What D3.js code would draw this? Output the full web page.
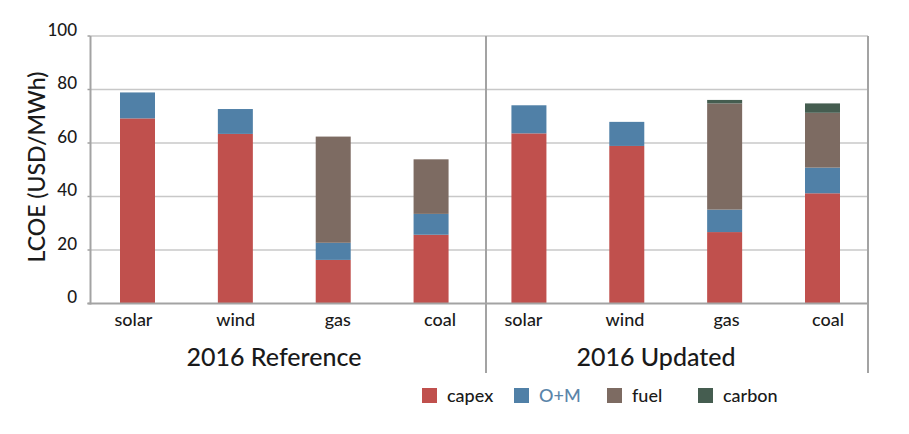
<!DOCTYPE html>
<html>
<head>
<meta charset="utf-8">
<script src="https://cdn.jsdelivr.net/npm/d3@7"></script>
<style>
  html, body { margin: 0; padding: 0; background: #fff; }
  svg { display: block; font-family: Lato, "Noto Sans", sans-serif; font-weight: 500; }
</style>
</head>
<body>
<svg id="chart" width="909" height="434"></svg>
<script>
// ---- data ----
const categories = ["solar", "wind", "gas", "coal"];
const groups = ["2016 Reference", "2016 Updated"];
const seriesNames = ["capex", "O+M", "fuel", "carbon"];
const capexRef = [69.2, 63.4, 16.3, 25.7];
const capexUpd = [63.6, 58.9, 26.7, 41.2];
const omRef = [9.7, 9.3, 6.4, 7.8];
const omUpd = [10.5, 9.0, 8.4, 9.6];
const fuelRef = [0, 0, 39.7, 20.4];
const fuelUpd = [0, 0, 39.7, 20.5];
const carbonRef = [0, 0, 0, 0];
const carbonUpd = [0, 0, 1.3, 3.5];
const yTicks = [0, 20, 40, 60, 80, 100];

// ---- build rows ----
const rows = [];
groups.forEach((g, gi) => {
  const cap = gi === 0 ? capexRef : capexUpd;
  const om = gi === 0 ? omRef : omUpd;
  const fu = gi === 0 ? fuelRef : fuelUpd;
  const ca = gi === 0 ? carbonRef : carbonUpd;
  categories.forEach((c, ci) => {
    rows.push({ key: g + "|" + c, group: g, gi: gi, cat: c,
      "capex": cap[ci], "O+M": om[ci], "fuel": fu[ci], "carbon": ca[ci] });
  });
});

const colors = { "capex": "#c0504d", "O+M": "#5080a7", "fuel": "#7d6b62", "carbon": "#455d50" };

const svg = d3.select("#chart");
const y = d3.scaleLinear().domain([0, 100]).range([303.5, 36]);
const x = d3.scalePoint().domain(rows.map(r => r.key)).range([137.5, 822.5]);
// category label positions per group
const labelScales = [
  d3.scalePoint().domain(categories).range([133.5, 440]),
  d3.scalePoint().domain(categories).range([523.5, 828])
];
const barW = 35;
const left = 90.5, right = 868, divider = 486;

// gridlines
svg.append("g").selectAll("line").data(yTicks.filter(t => t > 0)).join("line")
  .attr("x1", left).attr("x2", right)
  .attr("y1", d => y(d)).attr("y2", d => y(d))
  .attr("stroke", "#c8c8c8").attr("stroke-width", 1.5);

// y tick labels
svg.append("g").selectAll("text").data(yTicks).join("text")
  .attr("x", 77).attr("y", d => y(d) - 0.5)
  .attr("text-anchor", "end")
  .attr("font-size", 17).attr("fill", "#1a1a1a")
  .text(d => d);

// small tick marks
svg.append("g").selectAll("line").data(yTicks).join("line")
  .attr("x1", left - 3).attr("x2", left)
  .attr("y1", d => y(d)).attr("y2", d => y(d))
  .attr("stroke", "#a0a0a0").attr("stroke-width", 1.5);

// stacked bars
const stack = d3.stack().keys(seriesNames);
const stacked = stack(rows);
svg.append("g").selectAll("g").data(stacked).join("g")
  .attr("fill", d => colors[d.key])
  .selectAll("rect").data(d => d.filter(s => s[1] - s[0] > 0)).join("rect")
  .attr("x", d => x(d.data.key) - barW / 2)
  .attr("width", barW)
  .attr("y", d => y(d[1]))
  .attr("height", d => y(d[0]) - y(d[1]));

// axes frame
const axisColor = "#a3a3a3";
svg.append("line").attr("x1", left).attr("x2", left).attr("y1", 36).attr("y2", 304.5)
  .attr("stroke", axisColor).attr("stroke-width", 2);
svg.append("line").attr("x1", left - 3).attr("x2", right).attr("y1", y(0)).attr("y2", y(0))
  .attr("stroke", axisColor).attr("stroke-width", 2);
[divider, right].forEach(xx => {
  svg.append("line").attr("x1", xx).attr("x2", xx).attr("y1", 36).attr("y2", 373)
    .attr("stroke", axisColor).attr("stroke-width", 2);
});

// category labels
svg.append("g").selectAll("text").data(rows).join("text")
  .attr("x", d => labelScales[d.gi](d.cat)).attr("y", 326)
  .attr("text-anchor", "middle")
  .attr("font-size", 18).attr("fill", "#1a1a1a")
  .text(d => d.cat);

// group labels
const groupLabelX = [274, 656];
svg.append("g").selectAll("text").data(groups).join("text")
  .attr("x", (d, i) => groupLabelX[i]).attr("y", 366)
  .attr("text-anchor", "middle")
  .attr("font-size", 25).attr("fill", "#1a1a1a")
  .text(d => d);

// y title
svg.append("text")
  .attr("transform", "translate(45,167) rotate(-90)")
  .attr("text-anchor", "middle")
  .attr("font-size", 23).attr("fill", "#1a1a1a")
  .text("LCOE (USD/MWh)");

// legend
const legendX = [422, 514, 607, 698];
const lg = svg.append("g").selectAll("g").data(seriesNames).join("g")
  .attr("transform", (d, i) => `translate(${legendX[i]},388)`);
lg.append("rect").attr("width", 15).attr("height", 15).attr("fill", d => colors[d]);
lg.append("text").attr("x", 25).attr("y", 13.5)
  .attr("font-size", 18)
  .attr("fill", d => d === "O+M" ? "#5a85aa" : "#1a1a1a")
  .text(d => d);
</script>
</body>
</html>
